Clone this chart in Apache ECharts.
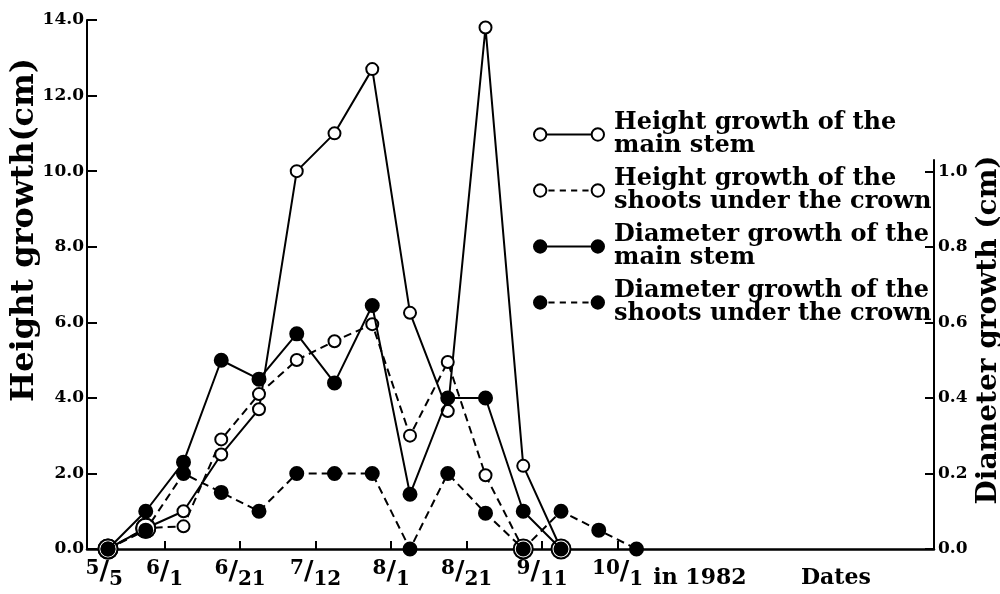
<!DOCTYPE html>
<html><head><meta charset="utf-8">
<script src="https://cdn.jsdelivr.net/npm/echarts@6/dist/echarts.min.js"></script>
<style>html,body{margin:0;padding:0;background:#fff}#c{width:1000px;height:594px}</style>
</head><body><div id="c"></div>
<script>
// sample positions (sampling order along the date axis)
const samples = [0,1,2,3,4,5,6,7,8,9,10,11,12,13,14];
// height growth (cm), left axis
const heightMain   = [0, 0.55, 1.0, 2.5, 3.7, 10.0, 11.0, 12.7, 6.25, 3.65, 13.8, 2.2, 0];
const heightShoots = [0, 0.55, 0.6, 2.9, 4.1, 5.0, 5.5, 5.95, 3.0, 4.95, 1.95, 0];
// diameter growth (cm), right axis
const diamMain   = [0, 0.1, 0.23, 0.5, 0.45, 0.57, 0.44, 0.645, 0.145, 0.4, 0.4, 0.1, 0];
const diamShoots = [0, 0.05, 0.2, 0.15, 0.1, 0.2, 0.2, 0.2, 0, 0.2, 0.095, 0, 0.1, 0.05, 0];
// axis ticks and labels
const xTickValues  = [1.5, 3.5, 5.5, 7.5, 9.5, 11.5, 13.5];
const xLabelValues = [-0.1, 1.5, 3.5, 5.5, 7.5, 9.5, 11.5, 13.5, 15.68, 19.28];
const xLabelTexts  = ['5/5','6/1','6/21','7/12','8/1','8/21','9/11','10/1','in 1982','Dates'];
const yLeftTicks  = [0, 2, 4, 6, 8, 10, 12, 14];
const yRightTicks = [0, 0.2, 0.4, 0.6, 0.8, 1.0];
const seriesNames = [
  'Height growth of the\nmain stem',
  'Height growth of the\nshoots under the crown',
  'Diameter growth of the\nmain stem',
  'Diameter growth of the\nshoots under the crown'
];

const FONT = 'DejaVu Serif';
const toPairs = arr => arr.map((v, i) => [samples[i], v]);

function heightSymbolSize(val) {
  const i = samples.indexOf(val[0]);
  const others = [diamMain[i], diamShoots[i]].filter(v => v != null);
  const overlap = others.some(d => Math.abs(d * 10 - val[1]) < 0.15);
  return overlap ? 19 : 12;
}

const circleL = 'M1 7A6 6 0 1 0 13 7A6 6 0 1 0 1 7Z';
const circleR = 'M57 7A6 6 0 1 0 69 7A6 6 0 1 0 57 7Z';
const iconSolid = 'path://' + circleL + 'M13 7L57 7' + circleR;
const iconDash  = 'path://' + circleL + 'M15 7L21 7M26 7L32 7M37 7L43 7M48 7L54 7' + circleR;
const openStyle = {color: '#fff', borderColor: '#000', borderWidth: 2};
const fillStyle = {color: '#000', borderColor: '#000', borderWidth: 2};

const xCommon = {type: 'value', min: -0.556, max: 21.88};

const chart = echarts.init(document.getElementById('c'), null, {renderer: 'canvas'});
chart.setOption({
  animation: false,
  backgroundColor: '#fff',
  grid: [
    {left: 87, right: 66, top: 20, bottom: 45, containLabel: false, outerBoundsMode: 'none'},
    {left: 87, right: 66, top: 160, bottom: 45, containLabel: false, outerBoundsMode: 'none'}
  ],
  legend: {
    orient: 'vertical', left: 533, top: 111, padding: 0,
    itemWidth: 70, itemHeight: 14, itemGap: 9,
    selectedMode: false,
    textStyle: {fontFamily: FONT, fontWeight: 'bold', fontSize: 24, lineHeight: 23, color: '#000', padding: [0, 0, 0, 5]},
    data: [
      {name: seriesNames[0], icon: iconSolid, itemStyle: openStyle},
      {name: seriesNames[1], icon: iconDash, itemStyle: openStyle},
      {name: seriesNames[2], icon: iconSolid, itemStyle: fillStyle},
      {name: seriesNames[3], icon: iconDash, itemStyle: fillStyle}
    ]
  },
  xAxis: [
    Object.assign({}, xCommon, {
      gridIndex: 0,
      axisLine: {onZero: false, lineStyle: {color: '#000', width: 2.5}},
      axisTick: {inside: true, length: 8, customValues: xTickValues, lineStyle: {color: '#000', width: 2}},
      splitLine: {show: false},
      axisLabel: {
        customValues: xLabelValues, margin: 5, color: '#000',
        formatter: function (v) {
          const i = xLabelValues.indexOf(v);
          const t = i >= 0 ? xLabelTexts[i] : '';
          if (t.indexOf('/') > 0) {
            const p = t.split('/');
            return '{n|' + p[0] + '}{s|/}{d|' + p[1] + '}';
          }
          return '{t|' + t + '}';
        },
        rich: {
          n: {fontFamily: FONT, fontWeight: 'bold', fontSize: 20, padding: [5, 0, 0, 0], verticalAlign: 'top', color: '#000'},
          s: {fontFamily: FONT, fontWeight: 'bold', fontSize: 26, lineHeight: 36, color: '#000'},
          d: {fontFamily: FONT, fontWeight: 'bold', fontSize: 20, lineHeight: 26, verticalAlign: 'bottom', color: '#000'},
          t: {fontFamily: FONT, fontWeight: 'bold', fontSize: 22, lineHeight: 48, color: '#000'}
        }
      }
    }),
    Object.assign({}, xCommon, {gridIndex: 1, show: false})
  ],
  yAxis: [
    {
      type: 'value', gridIndex: 0, min: 0, max: 14, position: 'left',
      name: 'Height growth(cm)', nameLocation: 'middle', nameGap: 46, nameMoveOverlap: false,
      nameTextStyle: {fontFamily: FONT, fontWeight: 'bold', fontSize: 32, color: '#000', padding: [0, 0, 0, 109]},
      axisLine: {show: true, onZero: false, lineStyle: {color: '#000', width: 2}},
      axisTick: {show: true, inside: true, length: 10, customValues: yLeftTicks, lineStyle: {color: '#000', width: 2}},
      axisLabel: {customValues: yLeftTicks, margin: 3, fontFamily: FONT, fontWeight: 'bold', fontSize: 17, color: '#000',
        formatter: v => v.toFixed(1)},
      splitLine: {show: false}
    },
    {
      type: 'value', gridIndex: 1, min: 0, max: 1.0305, position: 'right',
      name: 'Diameter growth (cm)', nameLocation: 'middle', nameGap: 41, nameRotate: 90, nameMoveOverlap: false,
      nameTextStyle: {fontFamily: FONT, fontWeight: 'bold', fontSize: 28, color: '#000', padding: [0, 0, 0, 49]},
      axisLine: {show: true, onZero: false, lineStyle: {color: '#000', width: 2}},
      axisTick: {show: true, inside: true, length: 9, customValues: yRightTicks, lineStyle: {color: '#000', width: 2}},
      axisLabel: {customValues: yRightTicks, margin: 4, fontFamily: FONT, fontWeight: 'bold', fontSize: 17, color: '#000',
        formatter: v => v.toFixed(1)},
      splitLine: {show: false}
    }
  ],
  series: [
    {
      name: seriesNames[0], type: 'line', xAxisIndex: 0, yAxisIndex: 0, z: 2,
      data: toPairs(heightMain), symbol: 'circle', symbolSize: heightSymbolSize,
      itemStyle: openStyle, lineStyle: {color: '#000', width: 2, type: 'solid'}
    },
    {
      name: seriesNames[1], type: 'line', xAxisIndex: 0, yAxisIndex: 0, z: 2,
      data: toPairs(heightShoots), symbol: 'circle', symbolSize: heightSymbolSize,
      itemStyle: openStyle, lineStyle: {color: '#000', width: 2, type: [8, 5]}
    },
    {
      name: seriesNames[2], type: 'line', xAxisIndex: 1, yAxisIndex: 1, z: 3,
      data: toPairs(diamMain), symbol: 'circle', symbolSize: 13,
      itemStyle: fillStyle, lineStyle: {color: '#000', width: 2, type: 'solid'}
    },
    {
      name: seriesNames[3], type: 'line', xAxisIndex: 1, yAxisIndex: 1, z: 3,
      data: toPairs(diamShoots), symbol: 'circle', symbolSize: 13,
      itemStyle: fillStyle, lineStyle: {color: '#000', width: 2, type: [8, 5]}
    }
  ]
});
</script>
</body></html>
